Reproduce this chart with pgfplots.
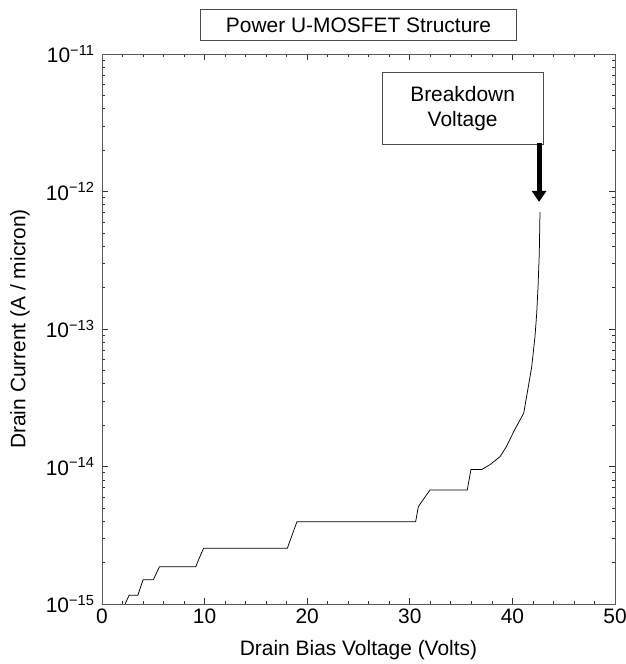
\documentclass[border=0pt]{standalone}
\usepackage{pgfplots}
\pgfplotsset{compat=1.18}
\usepackage{fontspec}
\setmainfont{Liberation Sans}
\usetikzlibrary{arrows.meta}
\begin{document}
\begin{tikzpicture}
\begin{axis}[
  scale only axis,
  width=513bp, height=550bp,
  at={(0,0)}, anchor=south west,
  xmin=0, xmax=50,
  ymode=log, ymin=1e-15, ymax=1e-11,
  xtick={0,10,20,30,40,50},
  xticklabels={0,10,20,30,40,50},
  minor x tick num=4,
  ytick={1e-15,1e-14,1e-13,1e-12,1e-11},
  yticklabels={10\textsuperscript{−15},10\textsuperscript{−14},10\textsuperscript{−13},10\textsuperscript{−12},10\textsuperscript{−11}},
  tick align=inside,
  major tick length=6bp,
  minor tick length=3bp,
  axis line style={black!65, line width=0.9bp},
  every tick/.style={black!80, line width=0.7bp},
  tick label style={font=\fontsize{21}{25}\selectfont},
  yticklabel style={xshift=-4bp},
  xticklabel style={yshift=-1bp},
  every axis x label/.style={at={(axis description cs:0.5,0)}, yshift=-46bp, anchor=center, font=\fontsize{21}{25}\selectfont},
  every axis y label/.style={at={(axis description cs:0,0.5)}, xshift=-82bp, rotate=90, anchor=center, font=\fontsize{21}{25}\selectfont},
  xlabel={Drain Bias Voltage (Volts)},
  ylabel={Drain Current (A / micron)},
  clip=false,
]
\addplot[black, line width=0.75bp] coordinates {
(2.25,1.0e-15) (2.65,1.16e-15) (3.5,1.16e-15) (4.0,1.5e-15) (5.0,1.5e-15)
(5.6,1.87e-15) (9.15,1.87e-15) (9.4,2.09e-15) (9.9,2.54e-15) (18.06,2.54e-15)
(19.0,3.97e-15) (30.57,3.97e-15) (30.83,5.1e-15) (31.16,5.55e-15) (31.97,6.75e-15)
(35.6,6.75e-15) (35.96,9.5e-15) (37.0,9.5e-15) (37.8,1.03e-14) (38.8,1.18e-14)
(39.4,1.39e-14) (40.2,1.84e-14) (41.1,2.44e-14) (41.55,3.8e-14) (41.88,5.3e-14)
(42.2,8.8e-14) (42.37,1.3e-13) (42.5,2.04e-13) (42.62,3.55e-13) (42.69,7.1e-13)
};
\node[draw=black!70, line width=0.9bp, fill=white, minimum width=316bp, minimum height=31bp, inner sep=0pt, font=\fontsize{21}{25}\selectfont] at ([yshift=29bp]rel axis cs:0.5,1) {Power U-MOSFET Structure};
\node[draw=black!70, line width=0.9bp, fill=white, minimum width=161bp, minimum height=72bp, inner sep=0pt, align=center, font=\fontsize{21}{25}\selectfont] at (axis cs:35.15,4.04e-12) {Breakdown\\Voltage};
\draw[black, line width=5bp, -{Triangle[width=14bp,length=11bp]}] (axis cs:42.6,2.25e-12) -- (axis cs:42.6,8.4e-13);
\end{axis}
\pgfresetboundingbox
\path[use as bounding box] (-102bp,-60bp) rectangle (524bp,604bp);
\end{tikzpicture}
\end{document}
